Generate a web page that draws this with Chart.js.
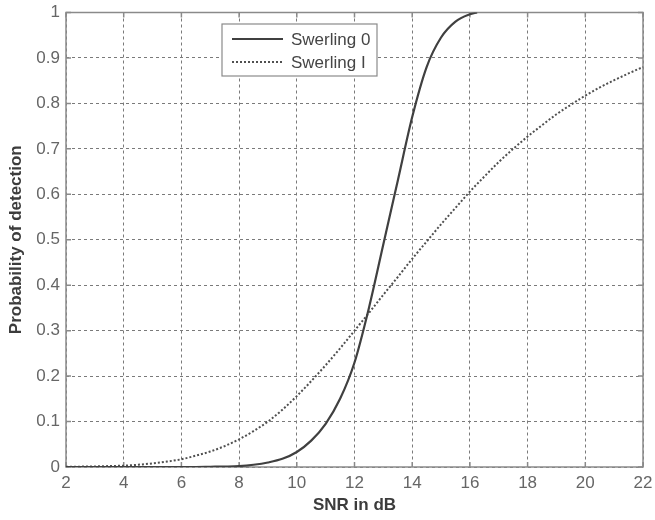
<!DOCTYPE html>
<html>
<head>
<meta charset="utf-8">
<script src="https://cdn.jsdelivr.net/npm/chart.js@4/dist/chart.umd.min.js"></script>
<style>
    html, body { margin: 0; padding: 0; background: #fff; }
</style>
</head>
<body>
<canvas id="pdChart" width="655" height="520"></canvas>
<script>
// SNR in dB (x) and probability of detection (y)
const snrSwerling0 = [2, 2.5, 3, 3.5, 4, 4.5, 5, 5.5, 6, 6.5, 7, 7.5, 8, 8.5, 9, 9.5,
    10, 10.5, 11, 11.5, 12, 12.5, 13, 13.5, 14, 14.5, 15, 15.5, 16, 16.25];
const pdSwerling0 = [0, 0, 0, 0, 0, 0, 0, 0, 0, 0, 0.0005, 0.001, 0.002, 0.005, 0.01, 0.018,
    0.033, 0.058, 0.095, 0.15, 0.23, 0.35, 0.49, 0.63, 0.77, 0.88, 0.945, 0.98, 0.996, 1];

const snrSwerling1 = [2, 2.5, 3, 3.5, 4, 4.5, 5, 5.5, 6, 6.5, 7, 7.5, 8, 8.5, 9, 9.5,
    10, 10.5, 11, 11.5, 12, 12.5, 13, 13.5, 14, 14.5, 15, 15.5, 16, 16.5, 17, 17.5,
    18, 18.5, 19, 19.5, 20, 20.5, 21, 21.5, 22];
const pdSwerling1 = [0.0004, 0.0008, 0.0013, 0.002, 0.003, 0.005, 0.008, 0.012, 0.017, 0.025,
    0.034, 0.046, 0.061, 0.079, 0.1, 0.126, 0.156, 0.189, 0.224, 0.261, 0.3, 0.339, 0.379,
    0.418, 0.458, 0.496, 0.534, 0.57, 0.606, 0.639, 0.671, 0.7, 0.727, 0.752, 0.776, 0.797,
    0.817, 0.835, 0.851, 0.866, 0.88];

const seriesNames = ["Swerling 0", "Swerling I"];
const xTicks = [2, 4, 6, 8, 10, 12, 14, 16, 18, 20, 22];
const yTicks = [0, 0.1, 0.2, 0.3, 0.4, 0.5, 0.6, 0.7, 0.8, 0.9, 1];

const toPoints = (xs, ys) => xs.map((x, i) => ({x: x, y: ys[i]}));

// Rahmen + nach innen zeigende Ticks (MATLAB-Stil)
const boxPlugin = {
    id: "box",
    beforeDatasetsDraw(chart) {
        const {ctx, chartArea: a, scales} = chart;
        ctx.save();
        ctx.strokeStyle = "#8a8a8a";
        ctx.lineWidth = 1.5;
        ctx.strokeRect(a.left, a.top, a.right - a.left, a.bottom - a.top);
        ctx.beginPath();
        xTicks.forEach(v => {
            const px = scales.x.getPixelForValue(v);
            ctx.moveTo(px, a.bottom); ctx.lineTo(px, a.bottom - 5);
            ctx.moveTo(px, a.top); ctx.lineTo(px, a.top + 5);
        });
        yTicks.forEach(v => {
            const py = scales.y.getPixelForValue(v);
            ctx.moveTo(a.left, py); ctx.lineTo(a.left + 5, py);
            ctx.moveTo(a.right, py); ctx.lineTo(a.right - 5, py);
        });
        ctx.stroke();
        ctx.restore();
    }
};

// Legende innerhalb der Achsen
const legendPlugin = {
    id: "innerLegend",
    afterDatasetsDraw(chart) {
        const ctx = chart.ctx;
        const x0 = 222, y0 = 24, w = 155, h = 52;
        ctx.save();
        ctx.fillStyle = "#fff";
        ctx.fillRect(x0, y0, w, h);
        ctx.strokeStyle = "#8a8a8a";
        ctx.lineWidth = 1.2;
        ctx.strokeRect(x0, y0, w, h);
        chart.data.datasets.forEach((ds, i) => {
            const y = y0 + 15 + i * 23;
            ctx.beginPath();
            ctx.strokeStyle = ds.borderColor;
            ctx.lineWidth = ds.borderWidth;
            ctx.setLineDash(ds.borderDash || []);
            ctx.moveTo(x0 + 10, y);
            ctx.lineTo(x0 + 61, y);
            ctx.stroke();
            ctx.setLineDash([]);
            ctx.fillStyle = "#454545";
            ctx.font = "17px 'Liberation Sans', Arial, sans-serif";
            ctx.textBaseline = "middle";
            ctx.fillText(ds.label, x0 + 69, y + 1);
        });
        ctx.restore();
    }
};

document.addEventListener("DOMContentLoaded", function () {
    const ctx = document.getElementById("pdChart");
    if (!ctx || typeof Chart === "undefined") return;

    const tickFont = {family: "'Liberation Sans', Arial, sans-serif", size: 17};
    const titleFont = {family: "'Liberation Sans', Arial, sans-serif", size: 17, weight: "bold", lineHeight: 1.2};

    new Chart(ctx, {
        type: "line",
        data: {
            datasets: [{
                label: seriesNames[0],
                data: toPoints(snrSwerling0, pdSwerling0),
                borderColor: "#404040",
                borderWidth: 2.2,
                pointRadius: 0,
                cubicInterpolationMode: "monotone",
                fill: false
            }, {
                label: seriesNames[1],
                data: toPoints(snrSwerling1, pdSwerling1),
                borderColor: "#505050",
                borderWidth: 2,
                borderDash: [2, 2],
                pointRadius: 0,
                cubicInterpolationMode: "monotone",
                fill: false
            }]
        },
        options: {
            responsive: false,
            animation: false,
            events: [],
            layout: {padding: {top: 12.5, right: 12, left: 0, bottom: 0}},
            plugins: {
                legend: {display: false},
                tooltip: {enabled: false}
            },
            scales: {
                x: {
                    type: "linear",
                    min: 2,
                    max: 22,
                    afterBuildTicks: (s) => { s.ticks = xTicks.map(v => ({value: v})); },
                    afterFit: (s) => {
                        s.height = 53;
                        s.paddingLeft = 0;
                        s.paddingRight = 0;
                    },
                    ticks: {font: tickFont, color: "#666", padding: 6, maxRotation: 0},
                    grid: {color: "#7a7a7a", lineWidth: 1, drawTicks: false},
                    border: {display: false, dash: [3, 3]},
                    title: {
                        display: true,
                        text: "SNR in dB",
                        font: titleFont,
                        color: "#3c3c3c",
                        padding: {top: 0, bottom: 4}
                    }
                },
                y: {
                    min: 0,
                    max: 1,
                    afterBuildTicks: (s) => { s.ticks = yTicks.map(v => ({value: v})); },
                    afterFit: (s) => {
                        s.width = 66;
                        s.paddingTop = 0;
                        s.paddingBottom = 0;
                    },
                    ticks: {
                        font: tickFont,
                        color: "#666",
                        padding: 6,
                        callback: (v) => String(Math.round(v * 10) / 10)
                    },
                    grid: {color: "#7a7a7a", lineWidth: 1, drawTicks: false},
                    border: {display: false, dash: [3, 3]},
                    title: {
                        display: true,
                        text: "Probability of detection",
                        font: titleFont,
                        color: "#3c3c3c",
                        padding: {top: 6, bottom: 0}
                    }
                }
            }
        },
        plugins: [boxPlugin, legendPlugin]
    });
});
</script>
</body>
</html>
